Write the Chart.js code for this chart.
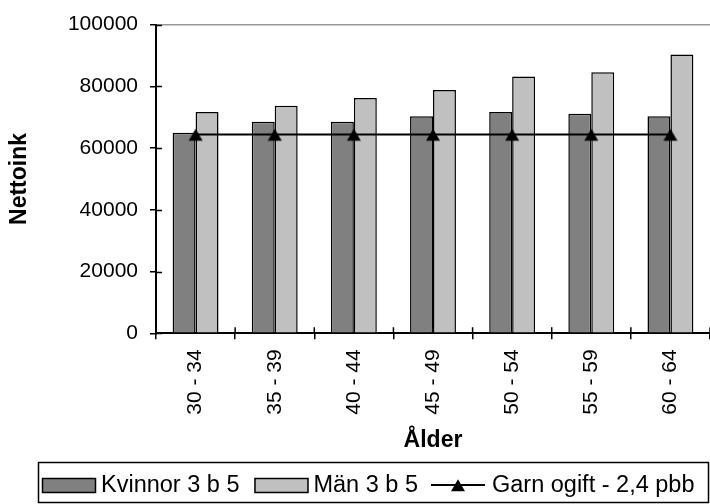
<!DOCTYPE html>
<html>
<head>
<meta charset="utf-8">
<title>Nettoink per ålder</title>
<script src="https://cdn.jsdelivr.net/npm/chart.js@4.4.1/dist/chart.umd.min.js"></script>
<style>
    html, body { margin: 0; padding: 0; background: #fff; overflow: hidden; }
    #wrap { width: 720px; height: 504px; }
</style>
</head>
<body>
<div id="wrap"><canvas id="chartNettoink" width="720" height="504"></canvas></div>
<script>
// Datos
const categorias = ['30 - 34', '35 - 39', '40 - 44', '45 - 49', '50 - 54', '55 - 59', '60 - 64'];
const kvinnor = [65000, 68500, 68500, 70300, 71700, 71100, 70300];
const man = [71700, 73700, 76200, 78800, 83200, 84600, 90300];
const garnOgift = [64400, 64400, 64400, 64400, 64400, 64400, 64400];
const ticksY = [0, 20000, 40000, 60000, 80000, 100000];

const etiquetas = ['Kvinnor 3 b 5', 'Män 3 b 5', 'Garn ogift - 2,4 pbb'];
const FUENTE = "'Liberation Sans', Arial, sans-serif";

/**
 * Triángulo negro un poco desplazado hacia abajo, como en Excel
 */
function crearTriangulo() {
    const c = document.createElement('canvas');
    c.width = 16;
    c.height = 16;
    const g = c.getContext('2d');
    g.fillStyle = '#000';
    g.beginPath();
    g.moveTo(8, 2.3);
    g.lineTo(15, 14.3);
    g.lineTo(1, 14.3);
    g.closePath();
    g.fill();
    return c;
}
const triangulo = crearTriangulo();

/**
 * Marcas de los ejes que cruzan la línea (estilo Excel)
 */
const marcasCruzadas = {
    id: 'marcasCruzadas',
    afterDraw(chart) {
        const { ctx, scales: { x, y } } = chart;
        ctx.save();
        ctx.strokeStyle = '#000';
        ctx.lineWidth = 1.5;
        ctx.beginPath();
        y.ticks.forEach(t => {
            const py = Math.round(y.getPixelForValue(t.value)) + 0.5;
            ctx.moveTo(y.right, py);
            ctx.lineTo(y.right + 6, py);
        });
        for (let i = 0; i <= categorias.length; i++) {
            const px = x.getPixelForValue(i - 0.5);
            ctx.moveTo(px, x.top);
            ctx.lineTo(px, x.top - 6);
        }
        ctx.stroke();
        ctx.restore();
    }
};

/**
 * Leyenda con marco en la parte inferior
 */
const leyendaCaja = {
    id: 'leyendaCaja',
    afterDraw(chart) {
        const ctx = chart.ctx;
        const ds = chart.data.datasets;
        ctx.save();
        ctx.lineWidth = 1.5;
        ctx.strokeStyle = '#000';
        ctx.strokeRect(38.5, 462.5, 670, 40);

        ctx.font = '23.5px ' + FUENTE;
        ctx.fillStyle = '#000';
        ctx.textBaseline = 'alphabetic';
        let x = 42;
        const ySwatch = 478;
        const yTexto = 492;

        // barras
        for (let i = 0; i < 2; i++) {
            ctx.fillStyle = ds[i].backgroundColor;
            ctx.fillRect(x, ySwatch, 54, 15);
            ctx.strokeRect(x + 0.5, ySwatch + 0.5, 53, 14);
            x += 54 + 5;
            ctx.fillStyle = '#000';
            ctx.fillText(etiquetas[i], x, yTexto);
            x += ctx.measureText(etiquetas[i]).width + (i === 0 ? 15 : 13);
        }

        // línea con triángulo
        const yl = 485;
        ctx.lineWidth = 2;
        ctx.beginPath();
        ctx.moveTo(x, yl);
        ctx.lineTo(x + 54, yl);
        ctx.stroke();
        ctx.drawImage(triangulo, x + 27 - 8, yl - 8);
        x += 54 + 7;
        ctx.fillText(etiquetas[2], x, yTexto);
        ctx.restore();
    }
};

function crearGrafica() {
    const ctx = document.getElementById('chartNettoink').getContext('2d');

    new Chart(ctx, {
        type: 'bar',
        data: {
            labels: categorias,
            datasets: [
                {
                    label: etiquetas[0],
                    data: kvinnor,
                    backgroundColor: '#808080',
                    borderColor: '#000',
                    borderWidth: 1.5,
                    categoryPercentage: 0.58,
                    barPercentage: 1,
                    order: 1
                },
                {
                    label: etiquetas[1],
                    data: man,
                    backgroundColor: '#c0c0c0',
                    borderColor: '#000',
                    borderWidth: 1.5,
                    categoryPercentage: 0.58,
                    barPercentage: 1,
                    order: 1
                },
                {
                    type: 'line',
                    label: etiquetas[2],
                    data: garnOgift,
                    borderColor: '#000',
                    borderWidth: 2,
                    pointStyle: triangulo,
                    pointRadius: 8,
                    fill: false,
                    tension: 0,
                    order: 0
                }
            ]
        },
        options: {
            responsive: false,
            animation: false,
            devicePixelRatio: 1,
            layout: {
                padding: { top: 23, left: 0, right: 1, bottom: 42 }
            },
            plugins: {
                legend: { display: false },
                tooltip: { enabled: false }
            },
            scales: {
                x: {
                    grid: {
                        drawOnChartArea: false,
                        tickColor: '#000',
                        tickLength: 6,
                        lineWidth: 1.5
                    },
                    border: { color: '#000', width: 2 },
                    ticks: {
                        color: '#000',
                        font: { family: FUENTE, size: 21 },
                        maxRotation: 90,
                        minRotation: 90,
                        padding: 10,
                        autoSkip: false
                    },
                    title: {
                        display: true,
                        text: 'Ålder',
                        color: '#000',
                        font: { family: FUENTE, size: 23, weight: 'bold' },
                        padding: { top: 0, bottom: 8 }
                    },
                    afterFit: scale => { scale.height = 128.7; }
                },
                y: {
                    min: 0,
                    max: 100000,
                    afterBuildTicks: scale => {
                        scale.ticks = ticksY.map(v => ({ value: v }));
                    },
                    grid: {
                        color: c => (c.tick && c.tick.value === 100000 ? '#999999' : 'rgba(0,0,0,0)'),
                        lineWidth: 1.5,
                        tickColor: '#000',
                        tickLength: 6
                    },
                    border: { color: '#000', width: 2 },
                    ticks: {
                        color: '#000',
                        font: { family: FUENTE, size: 21 },
                        padding: 12,
                        callback: value => String(value)
                    },
                    title: {
                        display: true,
                        text: 'Nettoink',
                        color: '#000',
                        font: { family: FUENTE, size: 23, weight: 'bold' },
                        padding: { top: 6, bottom: 0 }
                    },
                    afterFit: scale => { scale.width = 156; }
                }
            }
        },
        plugins: [marcasCruzadas, leyendaCaja]
    });
}

document.addEventListener('DOMContentLoaded', crearGrafica);
</script>
</body>
</html>
